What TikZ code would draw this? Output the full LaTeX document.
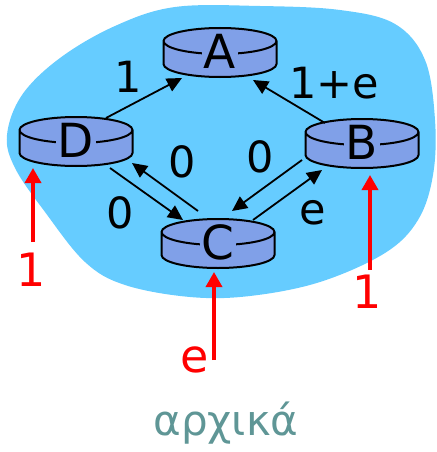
\documentclass[tikz,border=0pt]{standalone}
\usepackage{fontspec}
\setmainfont{DejaVu Sans}
\usepackage{xcolor}
\usepackage{tikz}
\usetikzlibrary{arrows.meta,backgrounds}
\definecolor{cloudblue}{RGB}{102,204,255}
\definecolor{diskblue}{RGB}{128,160,232}
\definecolor{tealgray}{RGB}{95,150,150}

\begin{document}
\begin{tikzpicture}[
    x=1pt, y=-1pt,
    router/.style={fill=diskblue, inner sep=2pt, font=\fontsize{47}{47}\selectfont},
    disk/.style={draw, line width=2pt, fill=diskblue},
    link/.style={draw, line width=1.8pt, -{Triangle[length=15pt,width=14pt]}},
    cost/.style={inner sep=0pt, font=\fontsize{43}{43}\selectfont},
    change/.style={draw=red, line width=3.5pt, -{Triangle[length=15pt,width=16pt]}},
    changecost/.style={inner sep=0pt, text=red, font=\fontsize{46}{46}\selectfont}
]
\useasboundingbox (0,0) rectangle (436,452);

\node[router] (A) at (220,51) {A};
\node[router] (D) at (76,140) {D};
\node[router] (B) at (362,142) {B};
\node[router] (C) at (218,242) {C};

\begin{scope}[on background layer]
\fill[cloudblue] plot[smooth cycle, tension=0.6] coordinates {
    (7,135) (22,95) (60,58) (115,26) (175,7) (260,6) (340,10) (395,24) (425,60)
    (435,120) (433,175) (418,220) (385,253) (320,282) (250,296) (190,297)
    (125,285) (85,262) (45,212) (15,168)};
\foreach \r in {A,B,C,D}
    \draw[disk] ([xshift=-56.5pt,yshift=10pt]\r.center) -- ++(0pt,-23pt)
        arc[start angle=180, end angle=360, x radius=56.5pt, y radius=13pt] -- ++(0pt,23pt)
        arc[start angle=0, end angle=180, x radius=56.5pt, y radius=13pt] -- cycle
        arc[start angle=180, end angle=360, x radius=56.5pt, y radius=13pt];
\end{scope}

\draw[link] ([xshift=30pt,yshift=22pt]D.center) -- ([xshift=-38pt,yshift=-27pt]A.center);
\draw[link] ([xshift=-37pt,yshift=19pt]B.center) -- ([xshift=33pt,yshift=-29pt]A.center);
\draw[link] ([xshift=34pt,yshift=-28pt]D.center) -- ([xshift=-35pt,yshift=22pt]C.center);
\draw[link] ([xshift=-20pt,yshift=31pt]C.center) -- ([xshift=56pt,yshift=-23pt]D.center);
\draw[link] ([xshift=-60pt,yshift=-18pt]B.center) -- ([xshift=14pt,yshift=31pt]C.center);
\draw[link] ([xshift=35pt,yshift=22pt]C.center) -- ([xshift=-40pt,yshift=-28pt]B.center);

\node[cost] (cDA) at (128,77) {1};
\node[cost] (cBA) at (334,83) {1+e};
\node[cost] (cCD) at (182,162) {0};
\node[cost] (cBC) at (260,157) {0};
\node[cost] (cDC) at (120,213) {0};
\node[cost] (cCB) at (313,213) {e};

\coordinate (inD) at (33,242);
\coordinate (inB) at (370,270);
\coordinate (inC) at (214,360);
\draw[change] (inD) -- ([xshift=-43pt,yshift=-28pt]D.center);
\draw[change] (inB) -- ([xshift=8pt,yshift=-33pt]B.center);
\draw[change] (inC) -- ([xshift=-4pt,yshift=-30pt]C.center);
\node[changecost] (nD) at (31,270) {1};
\node[changecost] (nB) at (367,292) {1};
\node[changecost] (nC) at (195,360) {e};

\node[anchor=base, text=tealgray, font=\fontsize{42}{42}\selectfont] (title) at (226,435) {αρχικά};
\end{tikzpicture}
\end{document}
